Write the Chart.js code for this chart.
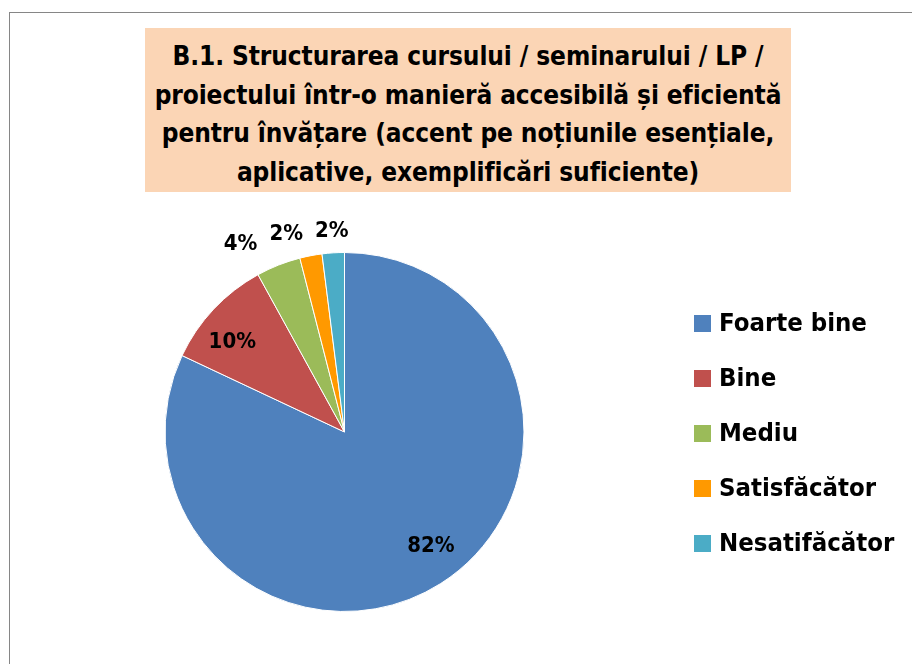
<!DOCTYPE html>
<html>
<head>
<meta charset="utf-8">
<script src="https://cdn.jsdelivr.net/npm/chart.js@4/dist/chart.umd.min.js"></script>
<style>
  html, body { margin: 0; padding: 0; background: #fff; }
  body { width: 912px; height: 664px; position: relative; overflow: hidden; }
  #frame {
    position: absolute; left: 9px; top: 12px; width: 920px; height: 700px;
    border: 1px solid #868686; box-sizing: border-box;
  }
  #title {
    position: absolute; left: 145px; top: 28px; width: 646px; height: 164px;
    background: #fbd5b5; box-sizing: border-box; padding-top: 9px;
    font-family: "DejaVu Sans Condensed", "Liberation Sans Narrow", sans-serif;
    font-weight: bold; font-size: 26px; line-height: 38.5px; text-align: center; color: #000;
    white-space: nowrap; letter-spacing: -0.1px;
  }
  #wrap { position: absolute; left: 0; top: 0; width: 912px; height: 664px; }
</style>
</head>
<body>
<div id="frame"></div>
<div id="wrap"><canvas id="pieChart"></canvas></div>
<div id="title">B.1. Structurarea cursului / seminarului / LP /<br>proiectului într-o manieră accesibilă și eficientă<br>pentru învățare (accent pe noțiunile esențiale,<br>aplicative, exemplificări suficiente)</div>
<script>
const categories = ['Foarte bine', 'Bine', 'Mediu', 'Satisfăcător', 'Nesatifăcător'];
const values = [82, 10, 4, 2, 2];
const sliceColors = ['#4f81bd', '#c0504d', '#9bbb59', '#ff9900', '#4bacc6'];

const FONT = '"DejaVu Sans Condensed", "Liberation Sans Narrow", sans-serif';

// Percentage labels: big slices inside, small ones outside and pushed apart
const pctLabels = {
    id: 'pctLabels',
    afterDatasetsDraw(chart) {
        const ctx = chart.ctx;
        const arcs = chart.getDatasetMeta(0).data;
        const total = values.reduce((a, b) => a + b, 0);
        ctx.save();
        ctx.font = 'bold 22px ' + FONT;
        ctx.fillStyle = '#000';
        ctx.textAlign = 'center';
        ctx.textBaseline = 'middle';

        const outside = [];
        arcs.forEach((arc, i) => {
            const pct = Math.round(values[i] / total * 100) + '%';
            const mid = (arc.startAngle + arc.endAngle) / 2;
            if (values[i] / total >= 0.08) {
                // inside labels sit a bit off the bisector, like Excel's best fit
                const d = arc.outerRadius * 0.8;
                const a = mid - 0.08;
                ctx.fillText(pct, arc.x + Math.cos(a) * d, arc.y + Math.sin(a) * d);
            } else {
                const d = arc.outerRadius + 22;
                const w = ctx.measureText(pct).width;
                outside.push({ text: pct, x: arc.x + Math.cos(mid) * d, y: arc.y + Math.sin(mid) * d, w });
            }
        });
        // resolve overlaps from right to left
        outside.sort((a, b) => b.x - a.x);
        for (let i = 1; i < outside.length; i++) {
            const prev = outside[i - 1];
            const cur = outside[i];
            const maxX = prev.x - prev.w / 2 - 12 - cur.w / 2;
            if (cur.x > maxX) cur.x = maxX;
        }
        outside.forEach(l => ctx.fillText(l.text, l.x, l.y));
        ctx.restore();
    }
};

// Legend drawn on the right
const sideLegend = {
    id: 'sideLegend',
    afterDraw(chart) {
        const ctx = chart.ctx;
        ctx.save();
        ctx.font = 'bold 25.5px ' + FONT;
        ctx.textBaseline = 'middle';
        ctx.textAlign = 'left';
        categories.forEach((name, i) => {
            const y = 323 + i * 55;
            ctx.fillStyle = sliceColors[i];
            ctx.fillRect(694, y - 8, 17, 17);
            ctx.fillStyle = '#000';
            ctx.fillText(name, 719, y + 1);
        });
        ctx.restore();
    }
};

new Chart(document.getElementById('pieChart'), {
    type: 'pie',
    data: {
        labels: categories,
        datasets: [{
            data: values,
            backgroundColor: sliceColors,
            borderColor: '#ffffff',
            borderWidth: 1
        }]
    },
    options: {
        responsive: true,
        maintainAspectRatio: false,
        animation: false,
        layout: { padding: { left: 164, right: 387, top: 252, bottom: 52 } },
        plugins: {
            legend: { display: false },
            title: { display: false },
            tooltip: { enabled: false }
        }
    },
    plugins: [pctLabels, sideLegend]
});
</script>
</body>
</html>
